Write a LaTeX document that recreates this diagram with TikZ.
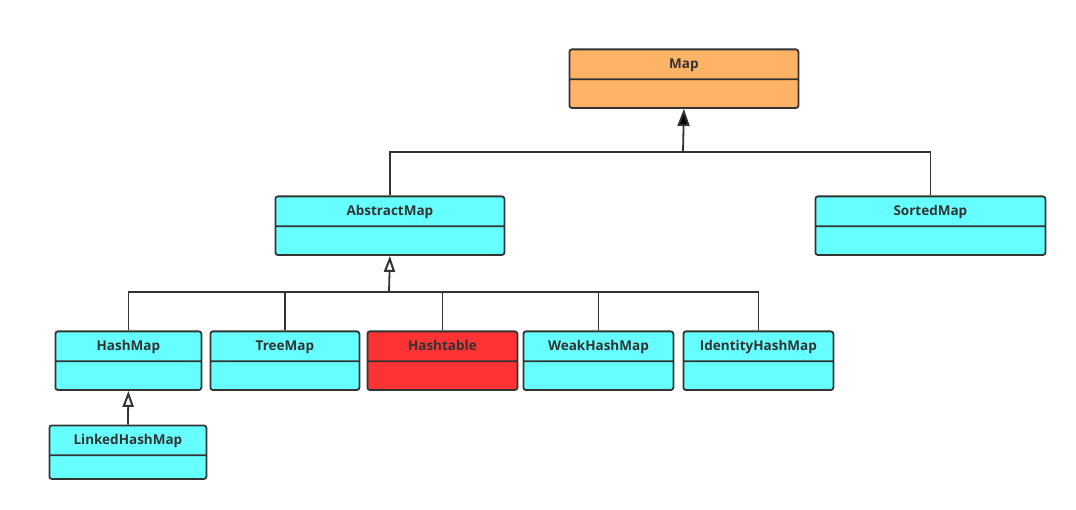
\documentclass[tikz,border=0pt]{standalone}
\usepackage{fontspec}
\setmainfont{Open Sans}
\usepackage{tikz}
\usetikzlibrary{arrows.meta}
\usetikzlibrary{shapes.multipart}
\definecolor{linegray}{HTML}{333333}
\definecolor{maporange}{HTML}{FFB366}
\definecolor{clscyan}{HTML}{66FFFF}
\definecolor{tablered}{HTML}{FF3333}
\tikzset{cls/.style = {rectangle split, rectangle split parts=2, draw=linegray,
                       line width=1.8pt, rounded corners=2.5pt, inner ysep=0pt,
                       anchor=north west, fill=clscyan, text=linegray,
                       font=\fontsize{13.5}{15}\selectfont\bfseries},
         link/.style = {draw=linegray, line width=1.8pt},
         solidtip/.style = {-{Triangle[length=17pt,width=12pt]}},
         opentip/.style = {-{Triangle[open,length=16pt,width=11pt,line width=2pt]}}}
\newcommand{\clsname}[2][27]{\rule[-9.5pt]{0pt}{28pt}#2\nodepart{two}\rule{0pt}{#1pt}}

\begin{document}
\begin{tikzpicture}[x=1pt, y=-1pt]
    \useasboundingbox (0, 0) rectangle (1076, 510);

    \node [cls, fill=maporange, minimum width=229pt] (map) at (568.5, 48.5) {\clsname{Map}};
    \node [cls, minimum width=229pt] (abstract) at (274.5, 195.5) {\clsname{AbstractMap}};
    \node [cls, minimum width=230pt] (sorted) at (814.5, 195.5) {\clsname{SortedMap}};

    \node [cls, minimum width=146pt] (hash) at (54.5, 330.5) {\clsname{HashMap}};
    \node [cls, minimum width=149pt] (tree) at (209.5, 330.5) {\clsname{TreeMap}};
    \node [cls, fill=tablered, minimum width=150pt] (table) at (366.5, 330.5) {\clsname{Hashtable}};
    \node [cls, minimum width=150pt] (weak) at (522.5, 330.5) {\clsname{WeakHashMap}};
    \node [cls, minimum width=150pt] (ident) at (682.5, 330.5) {\clsname{IdentityHashMap}};
    \node [cls, minimum width=157pt] (linked) at (48.5, 424.5) {\clsname[22]{LinkedHashMap}};

    % Map
    \coordinate (top) at (683, 152);
    \draw [link] (abstract.north) |- (top) -| (sorted.north);
    \draw [link, solidtip] (top) -- (map.south);

    % AbstractMap
    \coordinate (mid) at (389, 292);
    \foreach \n in {hash, tree, table, weak, ident} {
      \draw [link] (\n.north) |- (mid);
    }
    \draw [link, opentip] (mid) -- (abstract.south);

    \draw [link, opentip] (linked.north) -- (hash.south);
  \end{tikzpicture}
\end{document}
